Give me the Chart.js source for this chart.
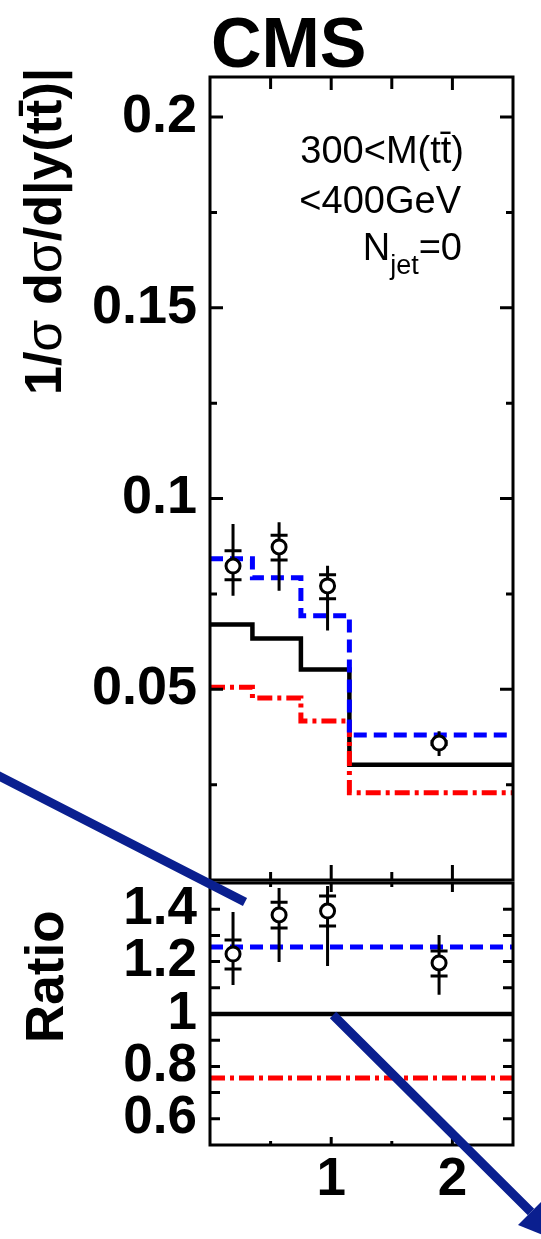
<!DOCTYPE html>
<html>
<head>
<meta charset="utf-8">
<script src="https://cdn.jsdelivr.net/npm/chart.js@4.4.0/dist/chart.umd.min.js"></script>
<style>
  html, body { margin: 0; padding: 0; background: #fff; }
  body { width: 541px; height: 1239px; position: relative; overflow: hidden; }
  canvas { position: absolute; left: 0; }
  #mainCanvas { top: 0; }
  #ratioCanvas { top: 760px; }
</style>
</head>
<body>
<canvas id="mainCanvas" width="541" height="890"></canvas>
<canvas id="ratioCanvas" width="541" height="479"></canvas>
<script>
// |y(tt)| binning and measured points
const binEdges = [0, 0.35, 0.75, 1.15, 2.5];
const pointX = [0.19, 0.57, 0.97, 1.89];

// normalised cross section, data
const dataY = [0.0823, 0.0873, 0.0771, 0.0359];
const dataStatLo = [0.0787, 0.0839, 0.0737, 0.0355];
const dataStatHi = [0.0863, 0.0904, 0.0800, 0.0363];
const dataTotLo = [0.0745, 0.0758, 0.0654, 0.0325];
const dataTotHi = [0.0933, 0.0938, 0.0824, 0.0390];

// predictions per bin
const predBlue = [0.0842, 0.0792, 0.0693, 0.0380];
const predBlack = [0.0670, 0.0633, 0.0552, 0.0302];
const predRed = [0.0505, 0.0477, 0.0417, 0.0229];

// ratio panel
const ratioY = [1.229, 1.378, 1.393, 1.195];
const ratioStatLo = [1.172, 1.328, 1.336, 1.145];
const ratioStatHi = [1.282, 1.427, 1.450, 1.240];
const ratioTotLo = [1.111, 1.198, 1.183, 1.073];
const ratioTotHi = [1.389, 1.481, 1.489, 1.302];

const ratioBlue = [1.256, 1.256, 1.256, 1.256];
const ratioBlack = [1, 1, 1, 1];
const ratioRed = [0.756, 0.756, 0.756, 0.756];

// tick labels
const mainYLabels = [0.05, 0.1, 0.15, 0.2];
const ratioYLabels = [0.6, 0.8, 1, 1.2, 1.4];
const xLabels = [1, 2];

const FONT = "'Liberation Sans', Arial, sans-serif";
const NAVY = '#0a1f8f';

function steps(vals) {
    // point at each left edge, plus the closing right edge
    const pts = vals.map((v, i) => ({ x: binEdges[i], y: v }));
    pts.push({ x: binEdges[binEdges.length - 1], y: vals[vals.length - 1] });
    return pts;
}

function pick(list) {
    return (v) => {
        const hit = list.find(t => Math.abs(t - v) < 1e-6);
        return hit === undefined ? '' : String(hit);
    };
}

// keep labels from shrinking the plot area
function fixPadding(scale) {
    scale.paddingTop = 0;
    scale.paddingBottom = 0;
    scale.paddingLeft = 0;
    scale.paddingRight = 0;
}

// draw a run of text pieces with different fonts
function drawParts(ctx, parts, x, y, align) {
    let total = 0;
    parts.forEach(p => { ctx.font = p[1]; total += ctx.measureText(p[0]).width; });
    let cx = align === 'right' ? x - total : x;
    parts.forEach(p => {
        ctx.font = p[1];
        ctx.fillText(p[0], cx, y + (p[2] || 0));
        cx += ctx.measureText(p[0]).width;
    });
}

// Error bars under the markers: full line = total, caps = stat
const errorBars = {
    id: 'errorBars',
    beforeDatasetDraw(chart, args, opts) {
        if (args.index !== 0) return;
        const { ctx, scales: { x, y } } = chart;
        ctx.save();
        ctx.strokeStyle = '#000';
        ctx.lineWidth = 3;
        pointX.forEach((px, i) => {
            const cx = x.getPixelForValue(px);
            ctx.beginPath();
            ctx.moveTo(cx, y.getPixelForValue(opts.lo[i]));
            ctx.lineTo(cx, y.getPixelForValue(opts.hi[i]));
            [opts.statLo[i], opts.statHi[i]].forEach(s => {
                const cy = y.getPixelForValue(s);
                ctx.moveTo(cx - 8.5, cy);
                ctx.lineTo(cx + 8.5, cy);
            });
            ctx.stroke();
        });
        ctx.restore();
    }
};

// Frame with inward ticks
const frame = {
    id: 'frame',
    afterDatasetsDraw(chart, args, o) {
        const { ctx, chartArea: a, scales: { x, y } } = chart;
        ctx.save();
        ctx.strokeStyle = '#000';
        ctx.lineWidth = 3;
        ctx.beginPath();
        o.yMajor.concat(o.yMinor).forEach(v => {
            const len = o.yMajor.includes(v) ? o.yMajorLen : o.yMinorLen;
            const py = y.getPixelForValue(v);
            ctx.moveTo(a.left, py); ctx.lineTo(a.left + len, py);
            ctx.moveTo(a.right, py); ctx.lineTo(a.right - len, py);
        });
        o.xMajor.concat(o.xMinor).forEach(v => {
            const major = o.xMajor.includes(v);
            const px = x.getPixelForValue(v);
            ctx.moveTo(px, a.top); ctx.lineTo(px, a.top + (major ? o.topMajorLen : o.topMinorLen));
            ctx.moveTo(px, a.bottom); ctx.lineTo(px, a.bottom - (major ? o.botMajorLen : o.botMinorLen));
        });
        ctx.stroke();
        ctx.strokeRect(a.left, a.top, a.right - a.left, a.bottom - a.top);
        ctx.restore();
    }
};

const mainText = {
    id: 'mainText',
    afterDraw(chart) {
        const ctx = chart.ctx;
        ctx.save();
        ctx.fillStyle = '#000';
        ctx.textBaseline = 'alphabetic';
        ctx.textAlign = 'left';
        ctx.font = 'bold 70px ' + FONT;
        ctx.fillText('CMS', 211, 67);

        const reg = '38px ' + FONT;
        drawParts(ctx, [['300<M(tt\u0304)', reg]], 464, 163, 'right');
        drawParts(ctx, [['<400GeV', reg]], 461, 213, 'right');
        drawParts(ctx, [['N', reg], ['jet', '27px ' + FONT, 14], ['=0', reg]], 462, 260, 'right');

        ctx.translate(61, 395);
        ctx.rotate(-Math.PI / 2);
        const b = 'bold 52px ' + FONT;
        const s = '52px ' + FONT;
        drawParts(ctx, [['1/', b], ['\u03c3', s], [' d', b], ['\u03c3', s], ['/d|y(tt\u0304)|', b]], 0, 0, 'left');
        ctx.restore();
    }
};

const ratioText = {
    id: 'ratioText',
    afterDraw(chart) {
        const ctx = chart.ctx;
        ctx.save();
        ctx.fillStyle = '#000';
        ctx.save();
        ctx.translate(63, 1043 - 760);
        ctx.rotate(-Math.PI / 2);
        ctx.font = 'bold 53px ' + FONT;
        ctx.textAlign = 'left';
        ctx.fillText('Ratio', 0, 0);
        ctx.restore();

        // annotation arrows laid over the figure
        ctx.strokeStyle = NAVY;
        ctx.fillStyle = NAVY;
        ctx.lineWidth = 9;
        ctx.lineCap = 'butt';
        ctx.beginPath();
        ctx.moveTo(-5, 14);
        ctx.lineTo(245, 142);
        ctx.moveTo(333, 255);
        ctx.lineTo(531, 452);
        ctx.stroke();
        ctx.beginPath();
        ctx.moveTo(518, 465);
        ctx.lineTo(544, 439);
        ctx.lineTo(563, 483);
        ctx.closePath();
        ctx.fill();
        ctx.restore();
    }
};

function lineSet(label, vals, color, dash, width) {
    return {
        label, data: steps(vals), type: 'line', stepped: 'before',
        borderColor: color, borderWidth: width, borderDash: dash,
        pointRadius: 0, fill: false
    };
}

function pointSet(vals) {
    return {
        label: 'Data', type: 'scatter',
        data: pointX.map((x, i) => ({ x, y: vals[i] })),
        pointRadius: 7, pointBorderWidth: 3,
        pointBorderColor: '#000', pointBackgroundColor: '#fff'
    };
}

const baseOptions = {
    responsive: false,
    animation: false,
    events: [],
    plugins: { legend: { display: false }, tooltip: { enabled: false } }
};

new Chart(document.getElementById('mainCanvas'), {
    type: 'scatter',
    data: {
        datasets: [
            pointSet(dataY),
            lineSet('blue', predBlue, '#0000ff', [13, 7], 5),
            lineSet('red', predRed, '#ff0000', [15, 5, 4, 5], 5),
            lineSet('black', predBlack, '#000000', [], 4.5)
        ]
    },
    options: {
        ...baseOptions,
        layout: { padding: { top: 77, right: 28, bottom: 7, left: 0 } },
        plugins: {
            ...baseOptions.plugins,
            errorBars: { lo: dataTotLo, hi: dataTotHi, statLo: dataStatLo, statHi: dataStatHi },
            frame: {
                yMajor: [0.05, 0.1, 0.15, 0.2], yMinor: [0.025, 0.075, 0.125, 0.175],
                yMajorLen: 13, yMinorLen: 7,
                xMajor: [1, 2], xMinor: [0.5, 1.5],
                topMajorLen: 13, topMinorLen: 12, botMajorLen: 15, botMinorLen: 8
            }
        },
        scales: {
            x: { type: 'linear', min: 0, max: 2.5, display: false },
            y: {
                min: 0, max: 0.2105,
                grid: { display: false, drawTicks: false }, border: { display: false },
                ticks: {
                    stepSize: 0.05, includeBounds: false, autoSkip: false, padding: 13,
                    color: '#000', font: { family: FONT, size: 54, weight: 'bold' },
                    callback: pick(mainYLabels)
                },
                afterFit(scale) { scale.width = 210; fixPadding(scale); }
            }
        }
    },
    plugins: [errorBars, frame, mainText]
});

new Chart(document.getElementById('ratioCanvas'), {
    type: 'scatter',
    data: {
        datasets: [
            pointSet(ratioY),
            lineSet('blue', ratioBlue, '#0000ff', [13, 7], 5),
            lineSet('red', ratioRed, '#ff0000', [15, 5, 4, 5], 5),
            lineSet('black', ratioBlack, '#000000', [], 4.5)
        ]
    },
    options: {
        ...baseOptions,
        layout: { padding: { top: 123, right: 28, bottom: 0, left: 0 } },
        plugins: {
            ...baseOptions.plugins,
            errorBars: { lo: ratioTotLo, hi: ratioTotHi, statLo: ratioStatLo, statHi: ratioStatHi },
            frame: {
                yMajor: [0.6, 0.7, 0.8, 0.9, 1, 1.1, 1.2, 1.3, 1.4], yMinor: [],
                yMajorLen: 10, yMinorLen: 10,
                xMajor: [1, 2], xMinor: [0.5, 1.5],
                topMajorLen: 9, topMinorLen: 4, botMajorLen: 8, botMinorLen: 4
            }
        },
        scales: {
            x: {
                type: 'linear', min: 0, max: 2.5,
                grid: { display: false, drawTicks: false }, border: { display: false },
                ticks: {
                    stepSize: 0.5, autoSkip: false, maxRotation: 0, padding: 4,
                    color: '#000', font: { family: FONT, size: 53, weight: 'bold' },
                    callback: pick(xLabels)
                },
                afterFit(scale) { scale.height = 94; fixPadding(scale); }
            },
            y: {
                min: 0.5, max: 1.5,
                grid: { display: false, drawTicks: false }, border: { display: false },
                ticks: {
                    stepSize: 0.1, autoSkip: false, padding: 13,
                    color: '#000', font: { family: FONT, size: 53, weight: 'bold' },
                    callback: pick(ratioYLabels)
                },
                afterFit(scale) { scale.width = 210; fixPadding(scale); }
            }
        }
    },
    plugins: [errorBars, frame, ratioText]
});
</script>
</body>
</html>
